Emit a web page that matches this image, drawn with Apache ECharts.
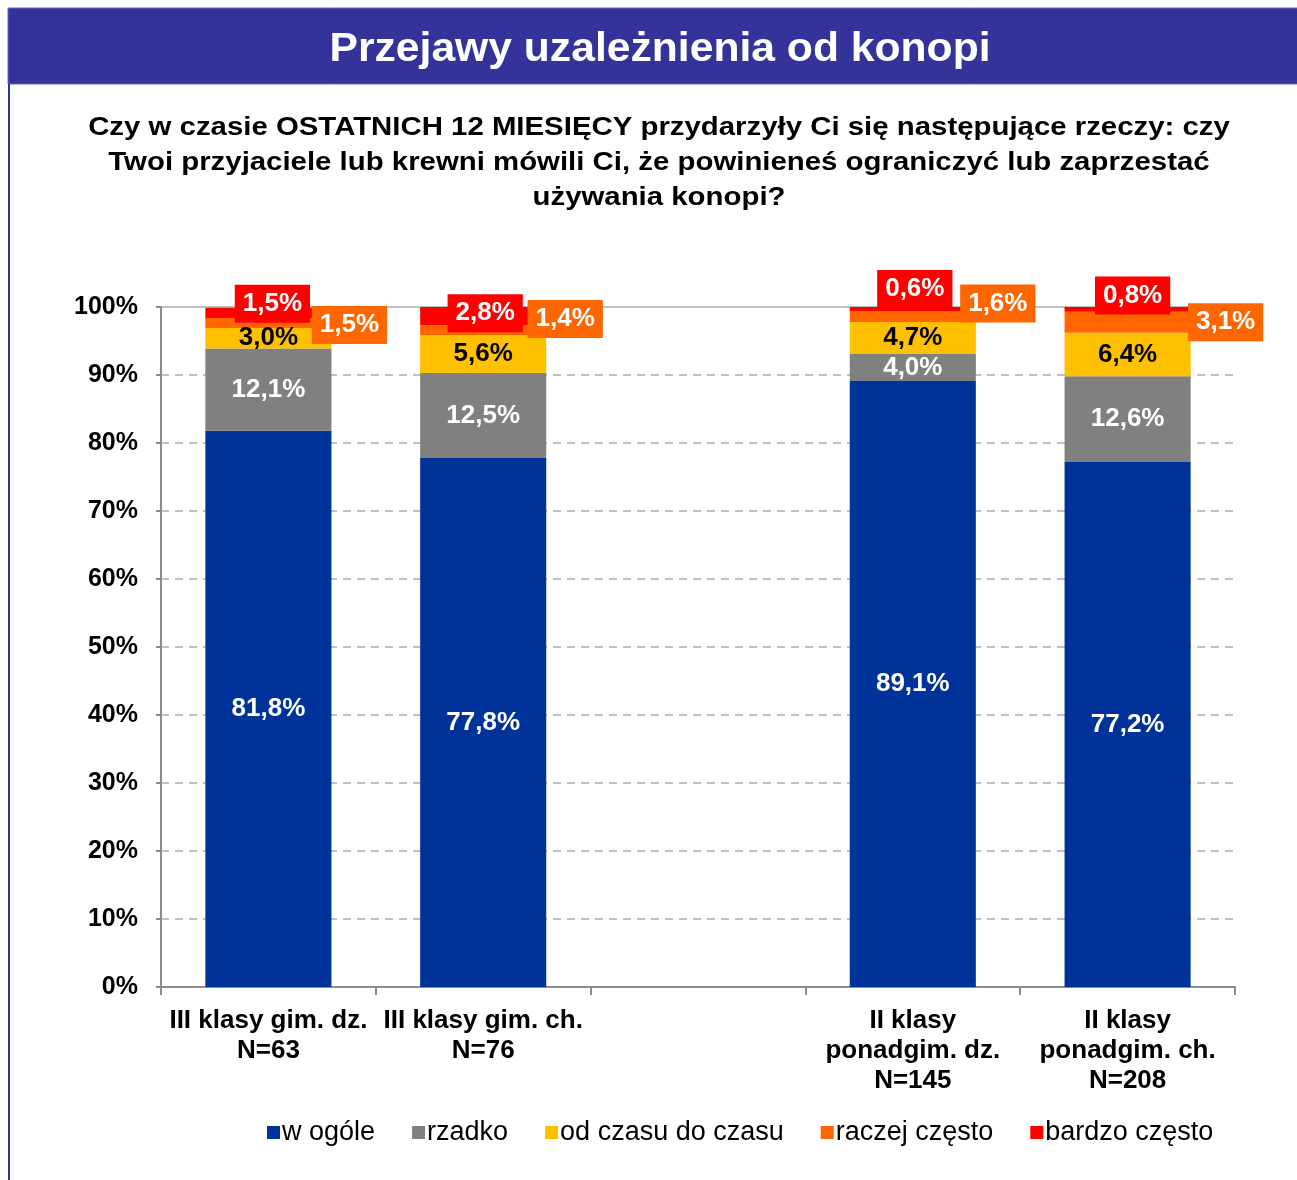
<!DOCTYPE html>
<html lang="pl">
<head>
<meta charset="utf-8">
<title>Przejawy uzależnienia od konopi</title>
<script src="https://cdn.jsdelivr.net/npm/echarts@6/dist/echarts.min.js"></script>
<style>
  html, body { margin: 0; padding: 0; background: #ffffff; }
  #chart { width: 1297px; height: 1180px; }
</style>
</head>
<body>
<div id="chart"></div>
<script>
// Groups (an empty slot separates the gimnazjum and ponadgimnazjum groups)
const categories = [
  'III klasy gim. dz.\nN=63',
  'III klasy gim. ch.\nN=76',
  '',
  'II klasy\nponadgim. dz.\nN=145',
  'II klasy\nponadgim. ch.\nN=208'
];

const seriesNames = ['w ogóle', 'rzadko', 'od czasu do czasu', 'raczej często', 'bardzo często'];

// Percent of answers per group
const wOgole       = [81.8, 77.8, null, 89.1, 77.2];
const rzadko       = [12.1, 12.5, null, 4.0, 12.6];
const odCzasu      = [3.0, 5.6, null, 4.7, 6.4];
const raczejCzesto = [1.5, 1.4, null, 1.6, 3.1];
const bardzoCzesto = [1.5, 2.8, null, 0.6, 0.8];

const yTicks = { min: 0, max: 100, interval: 10 };

// Label box placement for the two thin top segments
const raczejLabelOffsets = [[81, 2], [82, -11], [0, 0], [85, -13], [98, 0]];
const bardzoLabelOffsets = [[4, -9], [2, -3], [0, 0], [2, -20], [5, -14]];

const colors = ['#003399', '#808080', '#FFC000', '#FF6600', '#FF0000'];
const FONT = "'Liberation Sans', Arial, Helvetica, sans-serif";

const fmt = v => v.toFixed(1).replace('.', ',') + '%';

function plainSeries(name, values, color, textColor) {
  return {
    name: name,
    type: 'bar',
    stack: 'all',
    barWidth: '58.7%',
    itemStyle: { color: color },
    label: {
      show: true,
      position: 'inside',
      color: textColor,
      fontFamily: FONT,
      fontWeight: 'bold',
      fontSize: 26,
      formatter: p => fmt(p.value)
    },
    data: values.map(v => (v === null ? '-' : v))
  };
}

function boxedSeries(name, values, color, offsets) {
  return {
    name: name,
    type: 'bar',
    stack: 'all',
    barWidth: '58.7%',
    itemStyle: { color: color },
    data: values.map((v, i) => v === null ? '-' : {
      value: v,
      label: {
        show: true,
        position: 'inside',
        offset: offsets[i],
        color: '#ffffff',
        backgroundColor: color,
        padding: [7, 8, 5, 8],
        fontFamily: FONT,
        fontWeight: 'bold',
        fontSize: 26,
        formatter: p => fmt(p.value)
      }
    })
  };
}

const series = [
  plainSeries(seriesNames[0], wOgole, colors[0], '#ffffff'),
  plainSeries(seriesNames[1], rzadko, colors[1], '#ffffff'),
  plainSeries(seriesNames[2], odCzasu, colors[2], '#000000'),
  boxedSeries(seriesNames[3], raczejCzesto, colors[3], raczejLabelOffsets),
  boxedSeries(seriesNames[4], bardzoCzesto, colors[4], bardzoLabelOffsets)
];

// Solid line at the top of the scale, kept behind bars and label boxes
series[0].markLine = {
  silent: true,
  z: 0,
  symbol: 'none',
  label: { show: false },
  lineStyle: { color: '#c0c0c0', width: 2, type: 'solid' },
  data: [{ yAxis: yTicks.max }]
};

const chart = echarts.init(document.getElementById('chart'), null, { renderer: 'canvas' });

chart.setOption({
  backgroundColor: '#ffffff',
  animation: false,
  textStyle: { fontFamily: FONT },
  graphic: [
    {
      type: 'rect',
      shape: { x: 8, y: 8, width: 1300, height: 76 },
      style: { fill: '#333399', stroke: '#6666bb', lineWidth: 1 },
      z: 0
    },
    {
      type: 'rect',
      shape: { x: 8, y: 84, width: 2, height: 1100 },
      style: { fill: '#333399' },
      z: 0
    },
    {
      type: 'text',
      x: 660,
      y: 50,
      scaleX: 1.04,
      style: {
        text: 'Przejawy uzależnienia od konopi',
        fill: '#ffffff',
        font: 'bold 41px ' + FONT,
        textAlign: 'center',
        textVerticalAlign: 'middle'
      },
      z: 1
    },
    {
      type: 'text',
      x: 659,
      y: 111,
      scaleX: 1.175,
      style: {
        text: 'Czy w czasie OSTATNICH 12 MIESIĘCY przydarzyły Ci się następujące rzeczy: czy\nTwoi przyjaciele lub krewni mówili Ci, że powinieneś ograniczyć lub zaprzestać\nużywania konopi?',
        fill: '#000000',
        font: 'bold 25px ' + FONT,
        lineHeight: 35,
        textAlign: 'center',
        textVerticalAlign: 'top'
      },
      z: 1
    }
  ],
  legend: {
    data: seriesNames,
    left: 262,
    top: 1114,
    icon: 'rect',
    itemWidth: 13,
    itemHeight: 13,
    itemGap: 37,
    textStyle: { fontFamily: FONT, fontSize: 27, color: '#000000', padding: [0, 0, 0, -3] }
  },
  grid: { left: 161, right: 62, top: 307, bottom: 193, containLabel: false },
  xAxis: {
    type: 'category',
    data: categories,
    axisLine: { show: true, lineStyle: { color: '#8c8c8c', width: 2 } },
    axisTick: { show: true, length: 8, interval: 0, lineStyle: { color: '#8c8c8c', width: 2 } },
    axisLabel: {
      interval: 0,
      margin: 19,
      color: '#000000',
      fontFamily: FONT,
      fontWeight: 'bold',
      fontSize: 26,
      lineHeight: 30
    }
  },
  yAxis: {
    type: 'value',
    min: yTicks.min,
    max: yTicks.max,
    interval: yTicks.interval,
    axisLine: { show: true, lineStyle: { color: '#8c8c8c', width: 2 } },
    axisTick: { show: true, length: 5, lineStyle: { color: '#8c8c8c', width: 2 } },
    axisLabel: {
      margin: 23,
      color: '#000000',
      fontFamily: FONT,
      fontWeight: 'bold',
      fontSize: 25,
      formatter: '{value}%'
    },
    splitLine: {
      show: true,
      lineStyle: { color: '#c0c0c0', width: 2, type: [8, 6] }
    }
  },
  series: series
});
</script>
</body>
</html>
